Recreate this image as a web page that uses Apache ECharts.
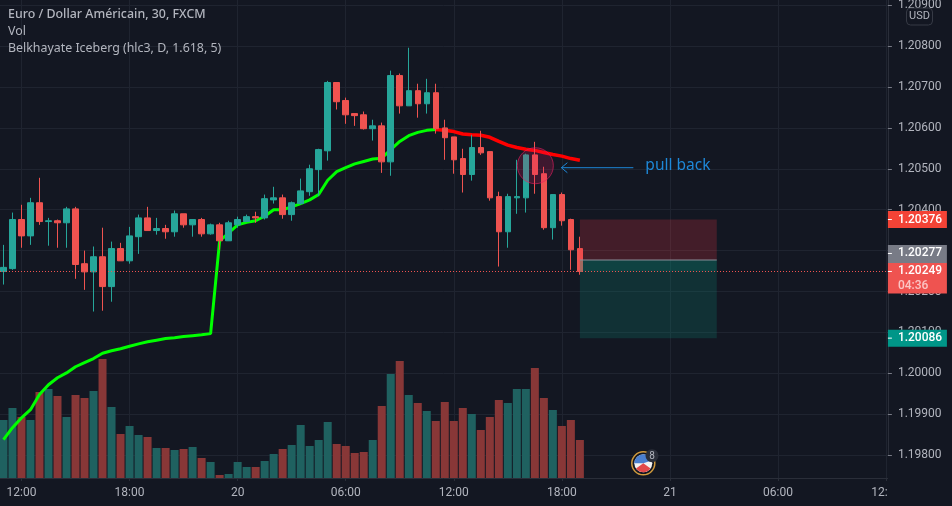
<!DOCTYPE html>
<html>
<head>
<meta charset="utf-8">
<style>
  html, body { margin: 0; padding: 0; background: #131722; }
  #chart { width: 952px; height: 506px; }
</style>
<script src="https://cdn.jsdelivr.net/npm/echarts@6/dist/echarts.min.js"></script>
</head>
<body>
<div id="chart"></div>
<script>
// candles, first bar is 11:00, 30 min bars
const opens = [1.20249,1.20256,1.20376,1.20336,1.20417,1.20371,1.20373,1.20368,1.20402,1.20268,1.20248,1.20285,1.20212,1.20305,1.20275,1.20334,1.20380,1.20349,1.20354,1.20346,1.20390,1.20363,1.20376,1.20341,1.20363,1.20324,1.20363,1.20371,1.20383,1.20380,1.20424,1.20429,1.20388,1.20415,1.20444,1.20498,1.20544,1.20711,1.20667,1.20635,1.20632,1.20598,1.20605,1.20517,1.20728,1.20654,1.20691,1.20659,1.20686,1.20600,1.20578,1.20525,1.20486,1.20552,1.20542,1.20432,1.20346,1.20429,1.20429,1.20534,1.20488,1.20356,1.20437,1.20376,1.20305];
const closes = [1.20259,1.20376,1.20336,1.20417,1.20371,1.20373,1.20368,1.20402,1.20266,1.20248,1.20285,1.20212,1.20305,1.20275,1.20336,1.20380,1.20349,1.20354,1.20346,1.20390,1.20363,1.20376,1.20341,1.20363,1.20324,1.20368,1.20376,1.20383,1.20380,1.20427,1.20429,1.20388,1.20417,1.20446,1.20500,1.20547,1.20711,1.20664,1.20632,1.20630,1.20598,1.20605,1.20517,1.20728,1.20654,1.20691,1.20659,1.20686,1.20598,1.20576,1.20522,1.20486,1.20552,1.20539,1.20429,1.20346,1.20432,1.20432,1.20534,1.20486,1.20356,1.20437,1.20373,1.20302,1.20249];
const lows = [1.20217,1.20253,1.20307,1.20314,1.20363,1.20312,1.20307,1.20307,1.20231,1.20204,1.20151,1.20153,1.20175,1.20275,1.20268,1.20292,1.20349,1.20339,1.20329,1.20334,1.20356,1.20334,1.20334,1.20339,1.20302,1.20324,1.20356,1.20371,1.20368,1.20376,1.20415,1.20378,1.20373,1.20412,1.20434,1.20433,1.20520,1.20645,1.20610,1.20605,1.20596,1.20569,1.20490,1.20483,1.20635,1.20654,1.20625,1.20635,1.20586,1.20522,1.20488,1.20442,1.20471,1.20534,1.20422,1.20261,1.20307,1.20390,1.20393,1.20439,1.20351,1.20327,1.20361,1.20253,1.20241];
const highs = [1.20314,1.20393,1.20412,1.20429,1.20478,1.20380,1.20376,1.20407,1.20407,1.20300,1.20310,1.20356,1.20322,1.20319,1.20358,1.20388,1.20407,1.20380,1.20363,1.20398,1.20390,1.20376,1.20380,1.20366,1.20368,1.20373,1.20383,1.20388,1.20395,1.20437,1.20456,1.20437,1.20420,1.20476,1.20510,1.20549,1.20715,1.20711,1.20674,1.20635,1.20640,1.20620,1.20613,1.20740,1.20733,1.20796,1.20708,1.20720,1.20708,1.20620,1.20578,1.20549,1.20583,1.20593,1.20542,1.20444,1.20439,1.20522,1.20537,1.20566,1.20505,1.20437,1.20442,1.20378,1.20334];
const volumes = [58,70,61,58,86,89,82,61,83,80,87,119,71,44,52,43,41,30,30,28,29,31,20,16,3,4,16,11,11,17,24,29,33,53,32,38,56,34,32,25,26,38,72,104,117,83,75,67,57,76,57,70,64,48,61,78,75,89,89,110,80,68,52,58,38];

// Belkhayate Iceberg line, green part then red part
const icebergUp = [1.19838,1.19867,1.19891,1.19911,1.19948,1.19972,1.19989,1.20001,1.20016,1.20026,1.20036,1.20049,1.20055,1.20060,1.20066,1.20072,1.20077,1.20081,1.20085,1.20087,1.20090,1.20092,1.20094,1.20097,1.20324,1.20343,1.20363,1.20369,1.20373,1.20384,1.20400,1.20400,1.20407,1.20415,1.20424,1.20437,1.20472,1.20493,1.20503,1.20512,1.20518,1.20524,1.20526,1.20547,1.20567,1.20581,1.20589,1.20594,1.20596];
const icebergDown = [1.20596,1.20594,1.20591,1.20585,1.20583,1.20582,1.20577,1.20567,1.20558,1.20552,1.20548,1.20545,1.20540,1.20535,1.20531,1.20525,1.20521];

// axis
const tickValues = [0, 12, 24, 36, 48, 60, 72, 84, 96];
const tickLabels = ['12:00', '18:00', '20', '06:00', '12:00', '18:00', '21', '06:00', '12:00'];

// short position drawing
const stopPrice = 1.20376;
const entryPrice = 1.20277;
const lastPrice = 1.20249;
const targetPrice = 1.20086;
const countdown = '04:36';
const positionBars = [62, 77.2];

// pull back note
const noteBar = 57;
const notePrice = 1.20510;
const noteText = 'pull back';

const UP = '#26a69a', DOWN = '#ef5350', BG = '#131722', GRID = '#1f2430', AXIS = '#2a2e39', TEXT = '#b2b5be';
const X_MIN = -12, X_MAX = 96.2;
const GRID_LEFT = -86.6, GRID_WIDTH = 974.5;
const UI_FONT = '"Noto Sans", sans-serif';

const barX = opens.map((_, i) => i - 2);
const candles = opens.map((o, i) => [barX[i], o, closes[i], lows[i], highs[i]]);
const volData = volumes.map((v, i) => ({
  value: [barX[i], v],
  itemStyle: { color: closes[i] >= opens[i] ? '#1f6160' : '#883737' }
}));
const upLine = icebergUp.map((p, i) => [barX[i], p]);
const downLine = icebergDown.map((p, i) => [barX[i + icebergUp.length - 1], p]);

const chart = echarts.init(document.getElementById('chart'), null, { renderer: 'canvas' });

function renderPosition(params, api) {
  const a = api.coord([positionBars[0], stopPrice]);
  const b = api.coord([positionBars[1], entryPrice]);
  const c = api.coord([positionBars[1], lastPrice]);
  const d = api.coord([positionBars[1], targetPrice]);
  const w = b[0] - a[0];
  return {
    type: 'group',
    children: [
      { type: 'rect', shape: { x: a[0], y: a[1], width: w, height: b[1] - a[1] }, style: { fill: 'rgba(242,54,69,0.22)' } },
      { type: 'rect', shape: { x: a[0], y: b[1], width: w, height: d[1] - b[1] }, style: { fill: 'rgba(8,153,129,0.2)' } },
      { type: 'rect', shape: { x: a[0], y: b[1], width: w, height: c[1] - b[1] }, style: { fill: 'rgba(8,153,129,0.17)' } },
      { type: 'line', shape: { x1: a[0], y1: b[1], x2: b[0], y2: b[1] }, style: { stroke: '#8a8d98', lineWidth: 1 } }
    ]
  };
}

function renderNote(params, api) {
  const p = api.coord([noteBar, notePrice]);
  const cx = p[0] + 0.5, cy = p[1] + 1;
  const ay = cy + 2;
  const blue = '#1e88d8';
  return {
    type: 'group',
    children: [
      { type: 'circle', shape: { cx: cx, cy: cy, r: 18 }, style: { fill: 'rgba(233,30,99,0.2)', stroke: 'rgba(233,30,99,0.6)', lineWidth: 1 } },
      { type: 'line', shape: { x1: cx + 26, y1: ay, x2: cx + 98, y2: ay }, style: { stroke: blue, lineWidth: 1 } },
      { type: 'polyline', shape: { points: [[cx + 32, ay - 5], [cx + 26, ay], [cx + 32, ay + 5]] }, style: { stroke: blue, fill: null, lineWidth: 1 } },
      { type: 'text', style: { text: noteText, x: cx + 110, y: cy, fill: blue, font: '15.5px ' + UI_FONT, textAlign: 'left', textVerticalAlign: 'middle' } }
    ]
  };
}

function renderTags(params, api) {
  const x = api.coord([X_MAX, stopPrice])[0];
  const yOf = p => api.coord([X_MAX, p])[1];
  const tag = (top, h, color, label, extra) => {
    const mid = top + 8.5;
    const kids = [
      { type: 'rect', shape: { x: x, y: top, width: 59, height: h }, style: { fill: color } },
      { type: 'line', shape: { x1: x, y1: mid, x2: x + 4, y2: mid }, style: { stroke: '#fff', lineWidth: 1 } },
      { type: 'text', style: { text: label, x: x + 10, y: mid, fill: '#fff', font: '500 12px Roboto', textAlign: 'left', textVerticalAlign: 'middle' } }
    ];
    if (extra) {
      kids.push({ type: 'text', style: { text: extra, x: x + 10, y: mid + 15, fill: '#fbc4c3', font: '500 12px Roboto', textAlign: 'left', textVerticalAlign: 'middle' } });
    }
    return kids;
  };
  const lastTop = yOf(lastPrice) - 8.5;
  return {
    type: 'group',
    children: [].concat(
      tag(yOf(stopPrice) - 8.5, 17, '#f44336', stopPrice.toFixed(5)),
      tag(lastTop - 18, 18, '#787b86', entryPrice.toFixed(5)),
      tag(lastTop, 30.5, DOWN, lastPrice.toFixed(5), countdown),
      tag(yOf(targetPrice) - 8.5, 17, '#009688', targetPrice.toFixed(5))
    )
  };
}

const option = {
  backgroundColor: BG,
  animation: false,
  title: [
    { text: 'Euro / Dollar Américain, 30, FXCM', left: 8, top: 8, padding: 0, textStyle: { color: TEXT, fontSize: 12.4, fontWeight: 500, fontFamily: UI_FONT } },
    { text: 'Vol', left: 8, top: 25, padding: 0, textStyle: { color: TEXT, fontSize: 12.4, fontWeight: 'normal', fontFamily: UI_FONT } },
    { text: 'Belkhayate Iceberg (hlc3, D, 1.618, 5)', left: 8, top: 42, padding: 0, textStyle: { color: TEXT, fontSize: 12.4, fontWeight: 'normal', fontFamily: UI_FONT } }
  ],
  grid: [
    { left: GRID_LEFT, width: GRID_WIDTH, top: -35.7, height: 490.8, outerBoundsMode: 'none' },
    { left: GRID_LEFT, width: GRID_WIDTH, top: 0, height: 478, outerBoundsMode: 'none' }
  ],
  xAxis: [
    { type: 'value', gridIndex: 0, min: X_MIN, max: X_MAX, interval: 12, show: false },
    {
      type: 'value', gridIndex: 1, min: X_MIN, max: X_MAX, interval: 12, z: 1,
      axisLine: { show: true, onZero: false, lineStyle: { color: AXIS } },
      axisTick: { show: true, length: 3, lineStyle: { color: AXIS } },
      splitLine: { show: true, lineStyle: { color: GRID } },
      axisLabel: {
        color: TEXT, fontSize: 12, fontFamily: 'Roboto', margin: 9,
        formatter: v => { const i = tickValues.indexOf(v); return i < 0 ? '' : tickLabels[i]; }
      }
    }
  ],
  yAxis: [
    {
      type: 'value', gridIndex: 0, min: 1.198, max: 1.21, interval: 0.001, position: 'right',
      axisLine: { show: false }, axisTick: { show: false }, axisLabel: { show: false },
      splitLine: { show: true, lineStyle: { color: GRID } }
    },
    {
      type: 'value', gridIndex: 0, min: 1.198, max: 1.21, interval: 0.001, position: 'right', z: 6,
      axisLine: { show: true, onZero: false, lineStyle: { color: AXIS } },
      axisTick: { show: true, length: 4, lineStyle: { color: '#787b86' } },
      splitLine: { show: false },
      axisLabel: { color: TEXT, fontSize: 12, fontFamily: 'Roboto', margin: 10, formatter: v => v.toFixed(5) }
    },
    { type: 'value', gridIndex: 1, min: 0, max: 478, show: false, splitLine: { show: false } }
  ],
  graphic: [
    // price scale panel, hides the cut end of the last time label
    { type: 'rect', z: 5, silent: true, shape: { x: 888, y: 0, width: 64, height: 506 }, style: { fill: BG } },
    { type: 'rect', z: 20, silent: true, shape: { x: 906.5, y: 8, width: 26, height: 17, r: 4 }, style: { fill: BG, stroke: '#363a45', lineWidth: 1 } },
    { type: 'text', z: 21, silent: true, style: { text: 'USD', x: 919.5, y: 16.5, fill: TEXT, font: '11px Roboto', textAlign: 'center', textVerticalAlign: 'middle' } },
    // calendar event icon
    { type: 'circle', z: 4.7, silent: true, shape: { cx: 643.3, cy: 463.3, r: 11.5 }, style: { fill: BG, stroke: '#d09a3c', lineWidth: 1.5 } },
    { type: 'circle', z: 4.7, silent: true, shape: { cx: 643.3, cy: 463.3, r: 9 }, style: { fill: '#f2f2f2' } },
    { type: 'sector', z: 4.7, silent: true, shape: { cx: 643.3, cy: 463.3, r: 9, startAngle: Math.PI, endAngle: Math.PI * 1.9 }, style: { fill: '#4a7fd0' } },
    { type: 'sector', z: 4.7, silent: true, shape: { cx: 643.3, cy: 463.3, r: 9, startAngle: Math.PI * 0.2, endAngle: Math.PI * 0.8 }, style: { fill: '#e2494b' } },
    { type: 'circle', z: 4.8, silent: true, shape: { cx: 652, cy: 455.7, r: 6.5 }, style: { fill: '#2a2e39' } },
    { type: 'text', z: 4.9, silent: true, style: { text: '8', x: 652, y: 456, fill: TEXT, font: '10px Roboto', textAlign: 'center', textVerticalAlign: 'middle' } }
  ],
  series: [
    {
      name: 'Vol', type: 'bar', xAxisIndex: 1, yAxisIndex: 2, z: 2,
      barWidth: 8, data: volData, silent: true
    },
    {
      name: 'Iceberg up', type: 'line', xAxisIndex: 0, yAxisIndex: 0, z: 3,
      data: upLine, showSymbol: false, silent: true,
      lineStyle: { color: '#00ff00', width: 3 },
      markLine: {
        silent: true, symbol: 'none', label: { show: false }, precision: 5,
        lineStyle: { color: DOWN, type: [1, 2], dashOffset: 0.4, width: 1 },
        data: [{ yAxis: lastPrice }]
      }
    },
    {
      name: 'Iceberg down', type: 'line', xAxisIndex: 0, yAxisIndex: 0, z: 3,
      data: downLine, showSymbol: false, silent: true,
      lineStyle: { color: '#ff0000', width: 3.5 }
    },
    {
      name: 'EURUSD', type: 'candlestick', xAxisIndex: 0, yAxisIndex: 0, z: 4,
      data: candles, encode: { x: 0, y: [1, 2, 3, 4] }, barWidth: 6, silent: true,
      itemStyle: { color: UP, color0: DOWN, borderColor: UP, borderColor0: DOWN, borderWidth: 1 }
    },
    {
      name: 'Position', type: 'custom', xAxisIndex: 0, yAxisIndex: 0, z: 4.5, silent: true,
      data: [[positionBars[0], entryPrice]], encode: { x: 0, y: 1 }, renderItem: renderPosition
    },
    {
      name: 'Note', type: 'custom', xAxisIndex: 0, yAxisIndex: 0, z: 4.6, silent: true,
      data: [[noteBar, notePrice]], encode: { x: 0, y: 1 }, renderItem: renderNote
    },
    {
      name: 'Tags', type: 'custom', xAxisIndex: 0, yAxisIndex: 0, z: 10, silent: true,
      data: [[X_MAX, lastPrice]], encode: { x: 0, y: 1 }, renderItem: renderTags
    }
  ]
};

chart.setOption(option);
</script>
</body>
</html>
